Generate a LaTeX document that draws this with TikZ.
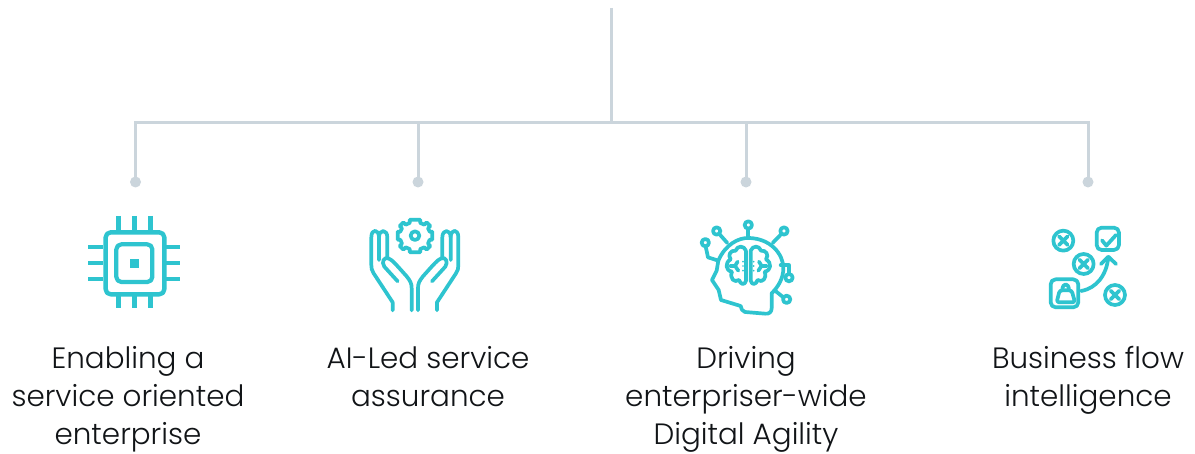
\documentclass[tikz,border=0pt]{standalone}
\usepackage{fontspec}
\setmainfont{Poppins Light}
\definecolor{linegray}{HTML}{CBD5DC}
\definecolor{teal1}{HTML}{2EC4CF}
\definecolor{ink}{HTML}{111417}
\tikzset{
  conn/.style={draw=linegray,line width=3pt},
  enddot/.style={circle,fill=linegray,inner sep=0pt,minimum size=11pt},
  lab/.style={align=center,text=ink,font=\fontsize{29.4}{38.3}\selectfont,anchor=north,inner sep=0pt},
  ico2/.style={draw=teal1,line width=3.7pt,line cap=round,line join=round},
  pin/.style={draw=teal1,line width=4.4pt},
  zoomed/.style={x=.33333pt,y=-.33333pt}
}
\begin{document}
\begin{tikzpicture}[x=1pt,y=-1pt]
\useasboundingbox (0,0) rectangle (1195,454);
\fill[white] (0,0) rectangle (1195,454);
\coordinate (top) at (611.5,8);
\coordinate (bus) at (611.5,123);
\coordinate (b1) at (135.5,123);
\coordinate (b2) at (418,123);
\coordinate (b3) at (746,123);
\coordinate (b4) at (1088,123);
\node[enddot] (d1) at (135.5,182) {};
\node[enddot] (d2) at (418,182) {};
\node[enddot] (d3) at (746,182) {};
\node[enddot] (d4) at (1088,182) {};
\draw[conn] (top) -- (bus);
\draw[conn] (d1.center) -- (b1) -- (b4) -- (d4.center);
\draw[conn] (b2) -- (d2.center);
\draw[conn] (b3) -- (d3.center);
\node[lab] (t1) at (128,346) {Enabling a\\service oriented\\enterprise};
\node[lab] (t2) at (428,346) {AI-Led service\\assurance};
\node[lab] (t3) at (746,346) {Driving\\enterpriser-wide\\Digital Agility};
\node[lab] (t4) at (1088,346) {Business flow\\intelligence};
% chip
\begin{scope}[zoomed,shift={(210,600)}]
\draw[ico2,line width=4.4pt,rounded corners=5pt] (107,97) rectangle (283,283);
\draw[ico2,line width=4.2pt,rounded corners=5pt] (139,133) rectangle (247,246);
\fill[teal1] (180,176) rectangle (207,203);
\foreach \p in {145,193,241}{
  \draw[pin] (\p,48) -- (\p,93);
  \draw[pin] (\p,283) -- (\p,323);
}
\foreach \p in {141,189,237}{
  \draw[pin] (55,\p) -- (100,\p);
  \draw[pin] (288,\p) -- (330,\p);
}
\end{scope}
% hands + gear
\begin{scope}[zoomed,shift={(1065,615)}]
\foreach \s/\o in {1/0,-1/359}{
\begin{scope}[shift={(\o,0)},xscale=\s]
\draw[ico2] (113,316) -- (113,292) -- (56,205) .. controls (50,196) and (49,190) .. (49,180) -- (49,97)
  .. controls (49,70) and (72,72) .. (72,97) -- (72,165);
\draw[ico2] (72,97) .. controls (72,72) and (97,72) .. (97,97) -- (97,160);
\draw[ico2] (128,229) -- (88,185) .. controls (78,170) and (88,155) .. (100,160)
  .. controls (112,165) and (120,175) .. (155,214) .. controls (166,228) and (170,235) .. (170,250) -- (170,316);
\end{scope}}
\draw[ico2] (180,92) circle (13);
\draw[ico2] (164.2,53.9) -- (164.2,44) -- (195.8,44) -- (195.8,53.9)
 -- (208,59) -- (215,52) -- (226,63) -- (219,70)
 -- (224,80) -- (232,80) -- (232,104) -- (224,104)
 -- (219,116) -- (226,123) -- (215,134) -- (208,127)
 -- (195.8,132) -- (195.8,142) -- (164.2,142) -- (164.2,132)
 -- (152,127) -- (145,134) -- (134,123) -- (141,116)
 -- (136,104) -- (128,104) -- (128,80) -- (136,80)
 -- (141,70) -- (134,63) -- (145,52) -- (152,59) -- cycle;
\end{scope}
% brain head
\begin{scope}[zoomed,shift={(2070,630)}]
\draw[ico2] (85,152) .. controls (105,105) and (145,82) .. (178,84) .. controls (240,86) and (280,130) .. (280,175)
 .. controls (280,205) and (265,230) .. (245,250) -- (245,295) .. controls (245,305) and (238,313) .. (225,311)
 -- (165,306) .. controls (155,305) and (155,295) .. (152,288) -- (93,270) -- (86,240) -- (66,210) -- (80,182) -- (85,152);
\draw[ico2] (175,56) -- (175,84);
\draw[ico2] (175,45) circle (11);
\draw[ico2] (88,72) -- (112,99);
\draw[ico2] (80,63) circle (11);
\draw[ico2] (274,72) -- (248,99);
\draw[ico2] (282,63) circle (11);
\draw[ico2] (47,109) -- (54,142) -- (85,152);
\draw[ico2] (46,98) circle (11);
\draw[ico2] (297,192) -- (297,166) -- (272,166);
\draw[ico2] (297,203) circle (11);
\draw[ico2] (280,262) -- (254,241);
\draw[ico2] (290,268) circle (11);
\foreach \s/\o in {1/0,-1/350}{
\begin{scope}[shift={(\o,0)},xscale=\s]
\draw[ico2] (168,122) .. controls (162,106) and (142,106) .. (137,122) .. controls (122,120) and (112,135) .. (122,148)
 .. controls (104,158) and (106,182) .. (126,185) .. controls (118,205) and (133,220) .. (147,210)
 .. controls (152,225) and (165,226) .. (168,212) -- (168,122);
\draw[ico2] (120,168) -- (135,168) -- (143,155);
\draw[ico2] (138,172) -- (145,182);
\foreach \y in {155,168,182}{\fill[teal1] (159,\y) circle (2.8);}
\end{scope}}
\end{scope}
% business
\begin{scope}[zoomed,shift={(3105,645)}]
\foreach \cx/\cy in {85/77,146/147,240/240}{
\begin{scope}[shift={(\cx,\cy)}]
\draw[ico2] (0,0) circle (30);
\draw[ico2] (-13,-13) -- (13,13) (-13,13) -- (13,-13);
\end{scope}}
\draw[ico2,rounded corners=5pt] (185,38) rectangle (252,105);
\draw[ico2] (201,76) -- (214,92) -- (243,60);
\draw[ico2,rounded corners=5pt] (47,193) rectangle (130,277);
\draw[ico2] (138,228) .. controls (185,220) and (215,180) .. (220,126);
\draw[ico2] (198,147) -- (220,125) -- (243,147);
\draw[ico2,rounded corners=2.5pt] (74,226) -- (110,226) -- (120,262) -- (65,262) -- cycle;
\draw[ico2] (82,226) .. controls (82,202) and (102,202) .. (102,226);
\end{scope}
\end{tikzpicture}
\end{document}
